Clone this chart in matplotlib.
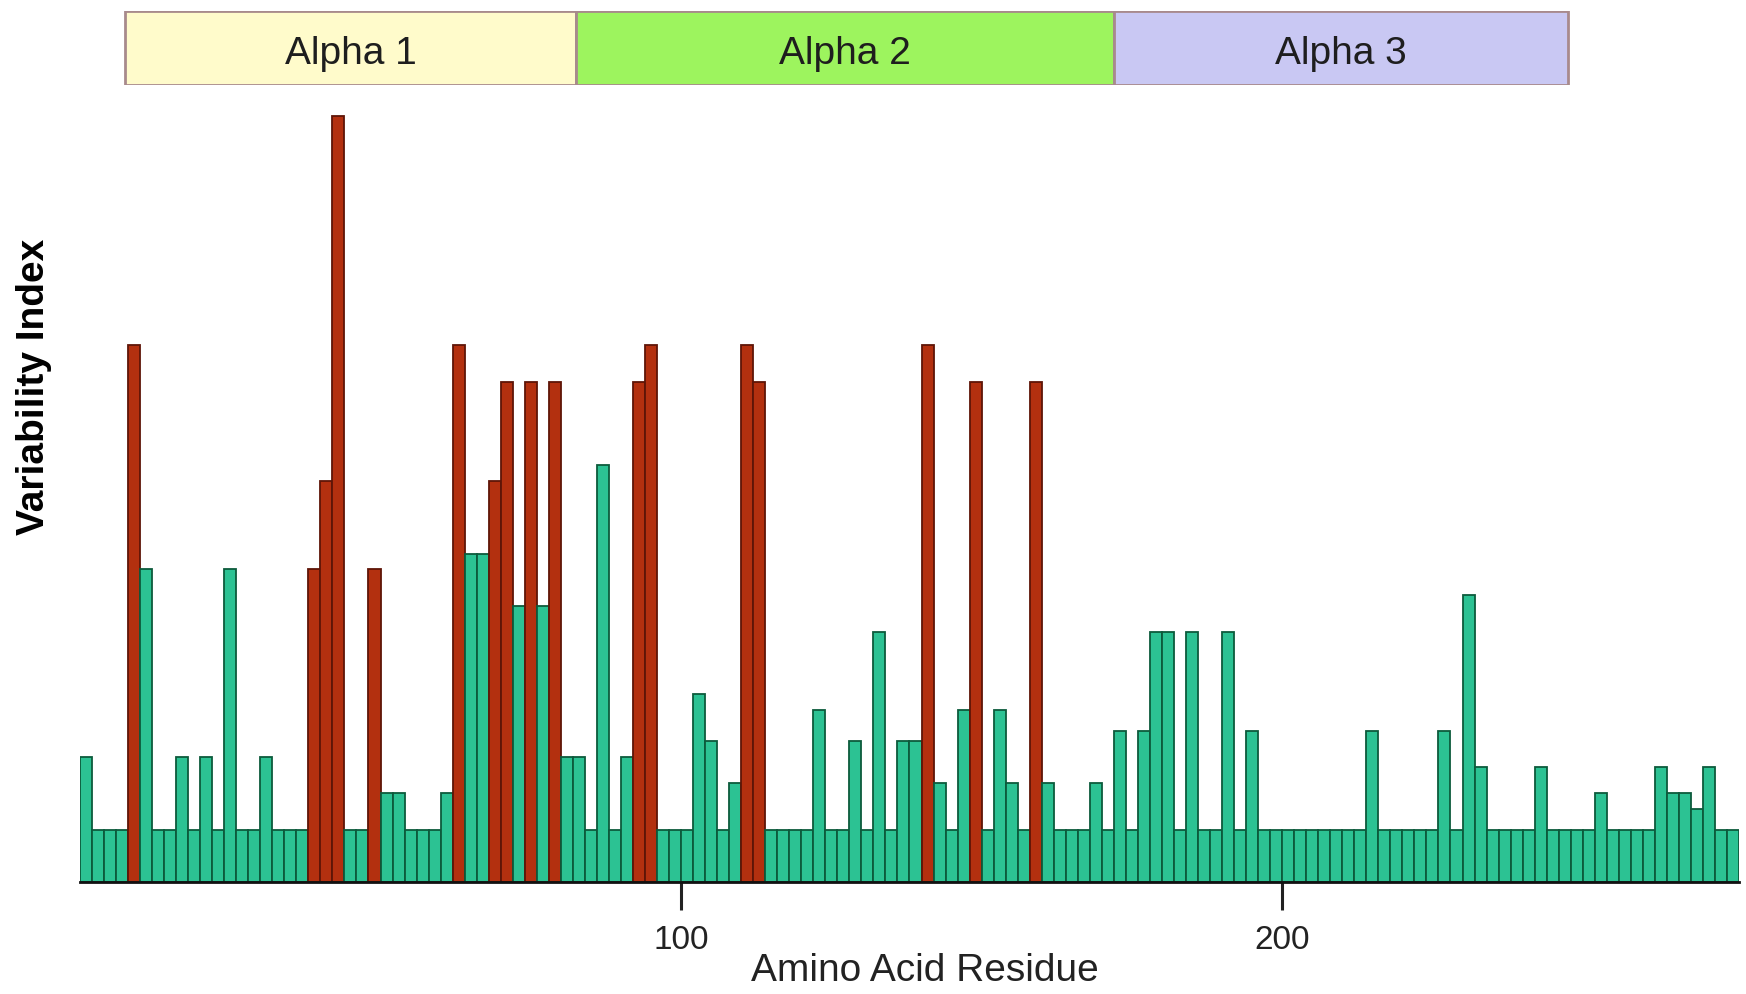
import numpy as np
import matplotlib
matplotlib.use("Agg")
import matplotlib.pyplot as plt

plt.rcParams['font.family'] = ['Liberation Sans', 'DejaVu Sans']

# one bar per two residues, centred on the odd residue numbers
residues = np.arange(1, 276, 2)

# variability index (base level = 1)
variability = [
    2.4, 1, 1, 1, 10.3, 6.0, 1, 1, 2.4, 1,
    2.4, 1, 6.0, 1, 1, 2.4, 1, 1, 1, 6.0,
    7.7, 14.7, 1, 1, 6.0, 1.7, 1.7, 1, 1, 1,
    1.7, 10.3, 6.3, 6.3, 7.7, 9.6, 5.3, 9.6, 5.3, 9.6,
    2.4, 2.4, 1, 8.0, 1, 2.4, 9.6, 10.3, 1, 1,
    1, 3.6, 2.7, 1, 1.9, 10.3, 9.6, 1, 1, 1,
    1, 3.3, 1, 1, 2.7, 1, 4.8, 1, 2.7, 2.7,
    10.3, 1.9, 1, 3.3, 9.6, 1, 3.3, 1.9, 1, 9.6,
    1.9, 1, 1, 1, 1.9, 1, 2.9, 1, 2.9, 4.8,
    4.8, 1, 4.8, 1, 1, 4.8, 1, 2.9, 1, 1,
    1, 1, 1, 1, 1, 1, 1, 2.9, 1, 1,
    1, 1, 1, 2.9, 1, 5.5, 2.2, 1, 1, 1,
    1, 2.2, 1, 1, 1, 1, 1.7, 1, 1, 1,
    1, 2.2, 1.7, 1.7, 1.4, 2.2, 1, 1,
]

# bars drawn in red (index into the arrays above)
red_bars = [4, 19, 20, 21, 24, 31, 34, 35, 37, 39, 46, 47, 55, 56, 70, 74, 79]

domain_names = ["Alpha 1", "Alpha 2", "Alpha 3"]
domain_start = [7.5, 82.5, 172.0]
domain_end = [82.5, 172.0, 247.5]
domain_colors = ["#fffbcb", "#9df45e", "#c9c8f3"]

x_ticks = [100, 200]

teal, teal_edge = "#2cc293", "#0c5a3c"
red, red_edge = "#b3300f", "#5e1507"

face = [red if i in red_bars else teal for i in range(len(residues))]
edge = [red_edge if i in red_bars else teal_edge for i in range(len(residues))]

fig = plt.figure(figsize=(17.46, 9.94), dpi=100)
ax = fig.add_axes([0.0458, 0.1127, 0.9502, 0.7867])

ax.bar(residues, variability, width=2.0, color=face, edgecolor=edge, linewidth=1.3)
ax.set_xlim(0, 276)
ax.set_ylim(0, 15)

for s in ["top", "right", "left"]:
    ax.spines[s].set_visible(False)
ax.spines["bottom"].set_linewidth(2)
ax.spines["bottom"].set_color("#111111")
ax.set_yticks([])
ax.set_xticks(x_ticks)
ax.set_xticklabels([str(t) for t in x_ticks], fontsize=24, color="#222222")
ax.tick_params(axis="x", direction="out", length=20, width=2.2, pad=11, color="#222222")

ax.set_xlabel("Amino Acid Residue", fontsize=28, color="#222222", va="center")
ax.xaxis.set_label_coords(0.509, -0.114)
ax.set_ylabel("Variability Index", fontsize=28, fontweight="bold", va="center")
ax.yaxis.set_label_coords(-0.028, 0.633)

# domain band above the bars
band = fig.add_axes([0.0458, 0.9145, 0.9502, 0.0744], sharex=ax)
widths = np.array(domain_end) - np.array(domain_start)
band.bar(domain_start, 1.0, width=widths, align="edge", color=domain_colors,
         edgecolor="#a88a8c", linewidth=2)
for name, s, w in zip(domain_names, domain_start, widths):
    band.text(s + w / 2, 0.42, name, ha="center", va="center", fontsize=28, color="#1e1e1e")
band.set_ylim(0, 1)
band.axis("off")

fig.savefig("out.png", dpi=100)
